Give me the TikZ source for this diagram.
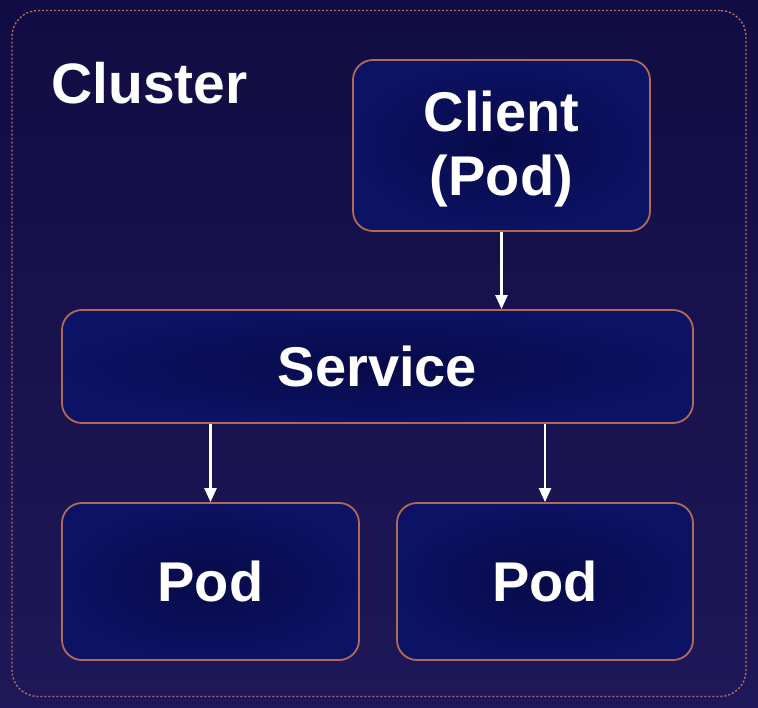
\documentclass[tikz,border=0pt]{standalone}
\usepackage{fontspec}
\setmainfont{Liberation Sans}
\usetikzlibrary{arrows.meta}
\definecolor{bgtop}{HTML}{120C44}
\definecolor{bgbot}{HTML}{1F1858}
\definecolor{boxin}{HTML}{070A48}
\definecolor{boxout}{HTML}{0C1264}
\definecolor{boxline}{HTML}{B06A58}
\definecolor{dotline}{HTML}{A87266}
\tikzset{
  boxnode/.style={rounded corners=20pt, draw=boxline, line width=1.8pt,
    inner color=boxin, outer color=boxout, text=white,
    font=\fontsize{56}{64}\selectfont\bfseries, align=center, inner sep=0pt},
  boxtext/.style={text=white, font=\fontsize{56}{64}\selectfont\bfseries, align=center, inner sep=0pt},
  flow/.style={draw=white, line width=2.4pt, -{Triangle[length=14pt,width=12pt]}},
  clusterbox/.style={rounded corners=26pt, draw=dotline, line width=1.4pt,
    dash pattern=on 2pt off 2pt, inner sep=0pt},
}
\begin{document}
\begin{tikzpicture}[x=1pt,y=-1pt]
\useasboundingbox (0,0) rectangle (758,708);
\shade[top color=bgtop, bottom color=bgbot] (0,0) rectangle (758,708);
\node[clusterbox, minimum width=734pt, minimum height=686pt] (cluster) at (379,353.5) {};
\node[anchor=base west, text=white, font=\fontsize{57}{64}\selectfont\bfseries, inner sep=0pt] (clabel) at (51,104) {Cluster};
\node[boxnode, minimum width=297pt, minimum height=171pt] (client) at (501.5,145.5) {};
\node[boxtext] (clienttext) at ([yshift=-4pt]client.center) {Client\\(Pod)};
\node[boxnode, minimum width=631pt, minimum height=113pt] (service) at (377.5,366.5) {Service};
\node[boxnode, minimum width=297pt, minimum height=157pt] (pod1) at (210.5,581.5) {Pod};
\node[boxnode, minimum width=296pt, minimum height=157pt] (pod2) at (545,581.5) {Pod};
\draw[flow] (client.south) -- (client.south |- service.north);
\draw[flow] (pod1.north |- service.south) -- (pod1.north);
\draw[flow] (pod2.north |- service.south) -- (pod2.north);
\end{tikzpicture}
\end{document}
